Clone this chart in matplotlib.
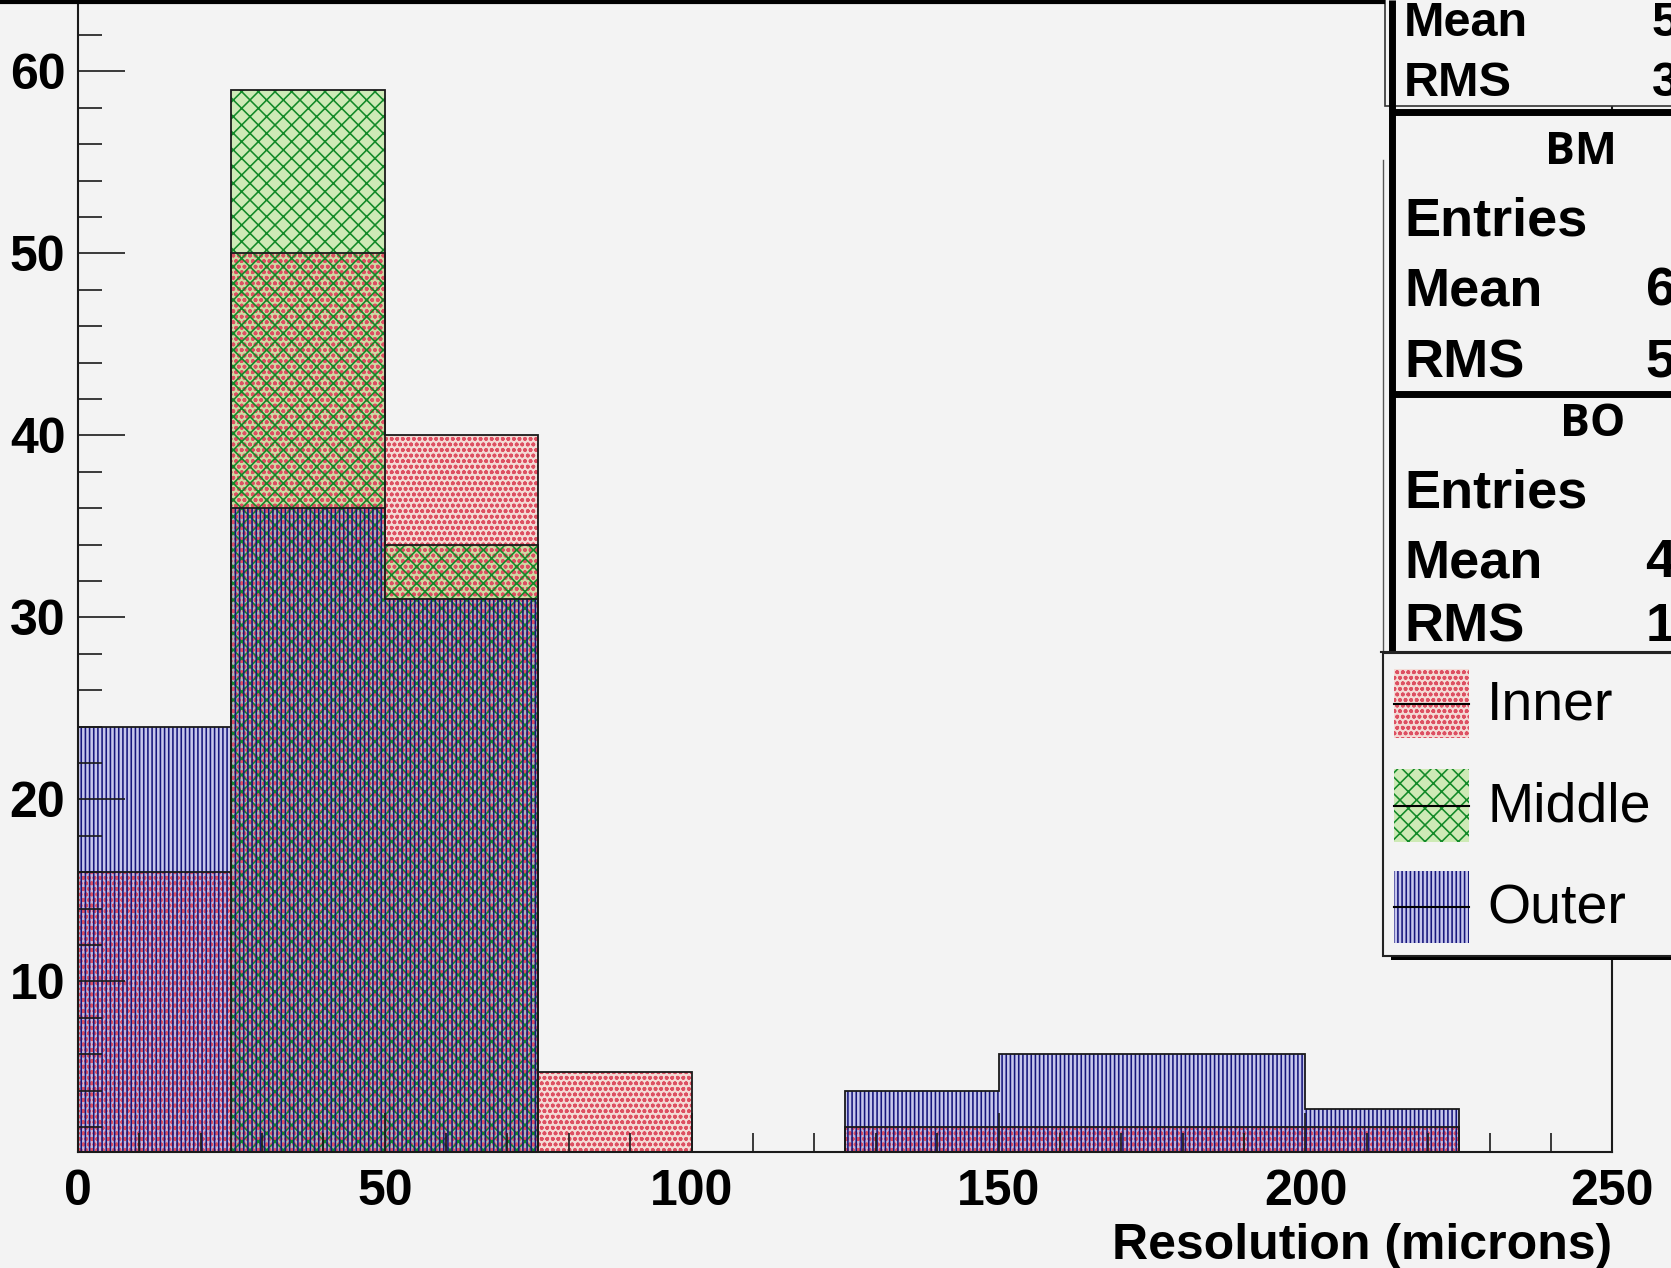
import numpy as np
import matplotlib
matplotlib.use("Agg")
import matplotlib.pyplot as plt
from matplotlib.patches import Rectangle
from matplotlib.ticker import MultipleLocator

# Histogram content: 25-micron bins from 0 to 250
bin_edges = [0, 25, 50, 75, 100, 125, 150, 175, 200, 225, 250]
inner = [16, 50, 40, 5, 0, 2, 2, 2, 2, 0]
middle = [0, 59, 34, 0, 0, 0, 0, 0, 0, 0]
outer = [24, 36, 31, 0, 0, 4, 6, 6, 3, 0]
legend_labels = ["Inner", "Middle", "Outer"]
box_titles = ["BM", "BO"]
xticks = [0, 50, 100, 150, 200, 250]
yticks = [10, 20, 30, 40, 50, 60]

W, H = 1671, 1268
BG = "#f3f3f3"
plt.rcParams["hatch.linewidth"] = 1.15

# Pattern fills: a translucent tint plus a saturated hatch, so overlaps mix optically
styles = {
    "Inner": dict(face=(0.97, 0.62, 0.55, 0.28), hatch_col="#dd5062", hatch="ooo"),
    "Middle": dict(face=(0.50, 0.85, 0.22, 0.32), hatch_col="#128a28", hatch="xx"),
    "Outer": dict(face=(0.45, 0.45, 0.88, 0.35), hatch_col="#16167c", hatch="||||"),
}

fig = plt.figure(figsize=(W / 100, H / 100), dpi=100, facecolor=BG)
ax = fig.add_axes([77.8 / W, 1 - 1152 / H, (1612.4 - 77.8) / W, 1152 / H])
ax.set_facecolor(BG)

edges = np.asarray(bin_edges, dtype=float)
series = {"Inner": inner, "Middle": middle, "Outer": outer}
order = ["Inner", "Middle", "Outer"]
# tints
for name in order:
    ax.stairs(series[name], edges, fill=True, facecolor=styles[name]["face"],
              linewidth=0, baseline=0)
# hatch patterns
for name in order:
    st = styles[name]
    ax.stairs(series[name], edges, fill=True, facecolor="none",
              edgecolor=st["hatch_col"], hatch=st["hatch"], linewidth=0, baseline=0)
# outlines
for name in order:
    ax.stairs(series[name], edges, fill=False, color="#1a1a1a", linewidth=1.3, baseline=0)

ax.set_xlim(0, 250)
ax.set_ylim(0.63, 63.92)
ax.xaxis.set_minor_locator(MultipleLocator(10))
ax.yaxis.set_minor_locator(MultipleLocator(2))
ax.set_xticks(xticks)
ax.set_yticks(yticks)
ax.tick_params(axis="x", which="major", direction="in", length=28, width=1.2, pad=12,
               top=False, labelsize=36, colors="#1a1a1a")
ax.tick_params(axis="x", which="minor", direction="in", length=14, width=1.2, top=False,
               colors="#1a1a1a")
ax.tick_params(axis="y", which="major", direction="in", length=34, width=1.2, pad=9,
               right=False, labelsize=36, colors="#1a1a1a")
ax.tick_params(axis="y", which="minor", direction="in", length=17, width=1.2, right=False,
               colors="#1a1a1a")
for lab in ax.get_xticklabels() + ax.get_yticklabels():
    lab.set_fontfamily("Liberation Sans")
    lab.set_fontweight("bold")
    lab.set_color("black")
ax.spines["top"].set_visible(False)
for s in ["left", "bottom", "right"]:
    ax.spines[s].set_linewidth(1.5)
    ax.spines[s].set_color("#1a1a1a")
ax.set_xlabel("Resolution (microns)", fontsize=36, fontweight="bold",
              fontfamily="Liberation Sans", loc="right", labelpad=6)


# Statistics per histogram from bin centres
def stats(values):
    centres = 0.5 * (edges[:-1] + edges[1:])
    v = np.asarray(values, dtype=float)
    n = v.sum()
    mean = (v * centres).sum() / n
    rms = np.sqrt((v * (centres - mean) ** 2).sum() / n)
    return int(n), mean, rms


s_inner = stats(inner)
s_outer = stats(outer)
s_middle = stats(middle)

# Overlay in pixel coordinates for stat boxes and legend
ov = fig.add_axes([0, 0, 1, 1], facecolor="none")
ov.set_xlim(0, W)
ov.set_ylim(H, 0)
ov.axis("off")

bold = dict(fontfamily="Liberation Sans", fontweight="bold", color="black", va="center")
val_x = 1781

# top line of the canvas
ov.plot([0, 1385], [2, 2], color="black", lw=3, solid_capstyle="butt")

# first stats box (partly out of view)
ov.add_patch(Rectangle((1385, -10), 400, 116, facecolor=BG, edgecolor="#333333", lw=1.2))
ov.text(1404, 24, "Mean", fontsize=35, **bold)
ov.text(1404, 84, "RMS", fontsize=35, **bold)
ov.text(val_x - 8, 24, f"{s_inner[1]:.2f}", fontsize=35, ha="right", **bold)
ov.text(val_x - 8, 84, f"{s_inner[2]:.2f}", fontsize=35, ha="right", **bold)

# BM and BO boxes
ov.add_patch(Rectangle((1392, 112), 400, 540, facecolor=BG, edgecolor="none"))
ov.plot([1383, 1383], [160, 652], color="#555555", lw=1)
ov.plot([1392, 1392], [0, 652], color="black", lw=5, solid_capstyle="butt")
ov.plot([1392, W], [112, 112], color="black", lw=5, solid_capstyle="butt")
ov.plot([1392, W], [394, 394], color="black", lw=5, solid_capstyle="butt")

for title, tx, ty, st, rows_y in [
    (box_titles[0], 1581, 153, s_outer, (221, 292, 363)),
    (box_titles[1], 1593, 425, s_middle, (493, 563, 627)),
]:
    ov.text(tx, ty, title, fontsize=32, fontfamily="Open Sans", fontweight="bold",
            ha="center", va="center", color="black")
    ov.text(1404, rows_y[0], "Entries", fontsize=39, **bold)
    ov.text(1404, rows_y[1], "Mean", fontsize=39, **bold)
    ov.text(1404, rows_y[2], "RMS", fontsize=39, **bold)
    ov.text(val_x + 40, rows_y[0], f"{st[0]}", fontsize=39, ha="right", **bold)
    ov.text(val_x, rows_y[1], f"{st[1]:.2f}", fontsize=39, ha="right", **bold)
    ov.text(val_x, rows_y[2], f"{st[2]:.2f}", fontsize=39, ha="right", **bold)

# Legend box with shadow
ov.add_patch(Rectangle((1391, 660), 400, 300, facecolor="black", edgecolor="none"))
ov.add_patch(Rectangle((1383, 653), 400, 303, facecolor=BG, edgecolor="#222222", lw=1.5))
ov.plot([1381, W], [652, 652], color="#222222", lw=1.5)
patch_rows = [(669, 738), (769, 842), (871, 943)]
for name, (y0, y1) in zip(legend_labels, patch_rows):
    st = styles[name]
    ov.add_patch(Rectangle((1394, y0), 75, y1 - y0, facecolor=st["face"], lw=0))
    ov.add_patch(Rectangle((1394, y0), 75, y1 - y0, facecolor="none",
                           edgecolor=st["hatch_col"], hatch=st["hatch"], lw=0))
    ov.plot([1394, 1469], [(y0 + y1) / 2] * 2, color="black", lw=1.5)
    ov.text(1487, (y0 + y1) / 2 + 2, name, fontsize=40, fontfamily="Liberation Sans",
            va="center", ha="left", color="black")

fig.savefig("out.png", dpi=100, facecolor=BG)
